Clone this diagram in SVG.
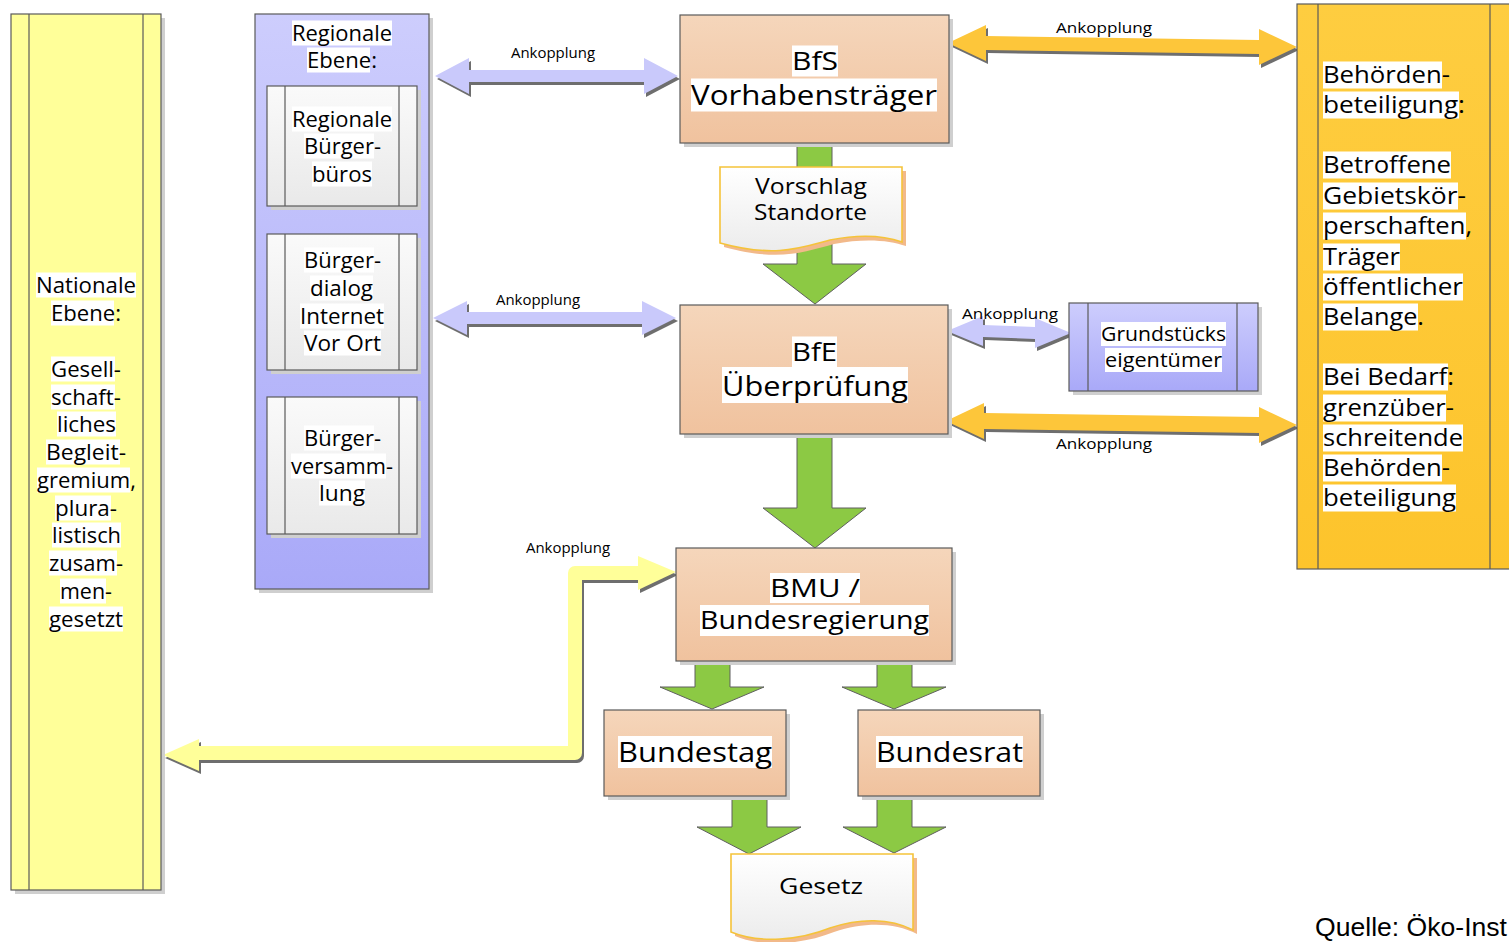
<svg xmlns="http://www.w3.org/2000/svg" width="1509" height="942" viewBox="0 0 1509 942">
<defs>
<linearGradient id="gPeach" x1="0" y1="0" x2="0" y2="1"><stop offset="0" stop-color="#f5d6bb"/><stop offset="1" stop-color="#f0c29e"/></linearGradient>
<linearGradient id="gLav" x1="0" y1="0" x2="0" y2="1"><stop offset="0" stop-color="#cdcdfd"/><stop offset="1" stop-color="#a9a9f8"/></linearGradient>
<linearGradient id="gSub" x1="0" y1="0" x2="0" y2="1"><stop offset="0" stop-color="#fafafa"/><stop offset="1" stop-color="#e9e9e9"/></linearGradient>
<linearGradient id="gDoc" x1="0" y1="0" x2="0" y2="1"><stop offset="0" stop-color="#ffffff"/><stop offset="1" stop-color="#ececec"/></linearGradient>
<linearGradient id="gOr" x1="0" y1="0" x2="0" y2="1"><stop offset="0" stop-color="#fecd40"/><stop offset="1" stop-color="#fdc42c"/></linearGradient>
</defs>
<style>
.t{font-family:"Open Sans","Noto Sans","DejaVu Sans",sans-serif;fill:#000}
.hl{fill:#fff}
.box{stroke:#5a5a5a;stroke-width:1.2}
.ln{stroke:#5a5a5a;stroke-width:1.2}
.sh{fill:#cfcfcf}
.ash{fill:#6e6e6e}
.lbl{font-family:"Open Sans","Noto Sans",sans-serif;font-size:14px;fill:#000}
.green{fill:#8cc944;stroke:#5f5f5f;stroke-width:1}
.lav{fill:#c9c9fb}
.orA{fill:#fdc63a}
.doc{fill:url(#gDoc);stroke:#f5c33a;stroke-width:1.6}
.docsh{fill:#f2b98a}
</style>
<rect width="1509" height="942" fill="#fff"/>

<g id="connectors">
  <polygon class="green" points="797,143 832,143 832,264 866,264 815,304 763,264 797,264"/>
  <polygon class="green" points="797,434 832,434 832,508 866,508 815,548 763,508 797,508"/>
  <polygon class="green" points="695,661 730,661 730,687 764,687 712,709 660,687 695,687"/>
  <polygon class="green" points="877,661 912,661 912,687 946,687 894,709 842,687 877,687"/>
  <polygon class="green" points="732,796 767,796 767,827 801,827 749,854 697,827 732,827"/>
  <polygon class="green" points="877,796 912,796 912,827 946,827 894,853 843,827 877,827"/>

  <g transform="translate(2,3)"><polygon class="ash" points="435,76 469,58 469,70 644,70 644,58 678,76 644,94 644,82 469,82 469,94"/></g>
  <polygon class="lav" points="435,76 469,58 469,70 644,70 644,58 678,76 644,94 644,82 469,82 469,94"/>
  <text class="lbl" x="553" y="58" text-anchor="middle" textLength="84" lengthAdjust="spacingAndGlyphs">Ankopplung</text>

  <g transform="translate(2,3)"><polygon class="ash" points="433,318 467,301 467,312 642,312 642,301 676,318 642,335 642,324 467,324 467,335"/></g>
  <polygon class="lav" points="433,318 467,301 467,312 642,312 642,301 676,318 642,335 642,324 467,324 467,335"/>
  <text class="lbl" x="538" y="305" text-anchor="middle" textLength="84" lengthAdjust="spacingAndGlyphs">Ankopplung</text>

  <g transform="translate(2,3)"><polygon class="ash" points="948,43 986,25 986,36 1259,40 1259,29 1297,47 1259,65 1259,54 986,50 986,61"/></g>
  <polygon class="orA" points="948,43 986,25 986,36 1259,40 1259,29 1297,47 1259,65 1259,54 986,50 986,61"/>
  <text class="lbl" x="1104" y="33" text-anchor="middle" textLength="96" lengthAdjust="spacingAndGlyphs">Ankopplung</text>

  <g transform="translate(2,3)"><polygon class="ash" points="947,331 983,316 983,325 1035,327 1035,318 1071,333 1035,348 1035,339 983,337 983,346"/></g>
  <polygon class="lav" points="947,331 983,316 983,325 1035,327 1035,318 1071,333 1035,348 1035,339 983,337 983,346"/>
  <text class="lbl" x="1010" y="319" text-anchor="middle" textLength="96" lengthAdjust="spacingAndGlyphs">Ankopplung</text>

  <g transform="translate(2,3)"><polygon class="ash" points="946,421 984,403 984,413 1259,417 1259,407 1297,425 1259,443 1259,433 984,429 984,439"/></g>
  <polygon class="orA" points="946,421 984,403 984,413 1259,417 1259,407 1297,425 1259,443 1259,433 984,429 984,439"/>
  <text class="lbl" x="1104" y="449" text-anchor="middle" textLength="96" lengthAdjust="spacingAndGlyphs">Ankopplung</text>

  <path d="M640,576 H577 V756 H198" fill="none" stroke="#6e6e6e" stroke-width="14" stroke-linejoin="round"/>
  <polygon class="ash" points="678,575 640,559 640,593"/>
  <polygon class="ash" points="165,758 201,742 201,774"/>
  <path d="M640,573 H575 V753 H198" fill="none" stroke="#ffff99" stroke-width="14" stroke-linejoin="round"/>
  <polygon fill="#ffff99" points="676,572 638,556 638,590"/>
  <polygon fill="#ffff99" points="163,755 199,739 199,771"/>
  <text class="lbl" x="568" y="553" text-anchor="middle" textLength="84" lengthAdjust="spacingAndGlyphs">Ankopplung</text>
</g>

<g id="national">
  <rect class="sh" x="15" y="18" width="150" height="876"/>
  <rect class="box" x="11" y="14" width="150" height="876" fill="#ffff99"/>
  <line class="ln" x1="29" y1="14" x2="29" y2="890"/>
  <line class="ln" x1="143" y1="14" x2="143" y2="890"/>
  <g font-size="21">
    <rect class="hl" x="36" y="272.5" width="100" height="25"/><text class="t" x="86" y="292.5" text-anchor="middle" textLength="100" lengthAdjust="spacingAndGlyphs">Nationale</text>
    <rect class="hl" x="51" y="300.5" width="63" height="25"/><text class="t" x="86" y="320.5" text-anchor="middle" textLength="70" lengthAdjust="spacingAndGlyphs">Ebene:</text>
    <rect class="hl" x="51" y="356.5" width="64" height="25"/><text class="t" x="86" y="376.5" text-anchor="middle" textLength="70" lengthAdjust="spacingAndGlyphs">Gesell-</text>
    <rect class="hl" x="51" y="384.5" width="64" height="25"/><text class="t" x="86" y="404.5" text-anchor="middle" textLength="70" lengthAdjust="spacingAndGlyphs">schaft-</text>
    <rect class="hl" x="57" y="411.5" width="59" height="25"/><text class="t" x="86.5" y="431.5" text-anchor="middle" textLength="59" lengthAdjust="spacingAndGlyphs">liches</text>
    <rect class="hl" x="46" y="439.5" width="74" height="25"/><text class="t" x="86" y="459.5" text-anchor="middle" textLength="80" lengthAdjust="spacingAndGlyphs">Begleit-</text>
    <rect class="hl" x="37" y="467.5" width="93" height="25"/><text class="t" x="86.5" y="487.5" text-anchor="middle" textLength="99" lengthAdjust="spacingAndGlyphs">gremium,</text>
    <rect class="hl" x="55" y="495.5" width="56" height="25"/><text class="t" x="86" y="515.5" text-anchor="middle" textLength="62" lengthAdjust="spacingAndGlyphs">plura-</text>
    <rect class="hl" x="52" y="522.5" width="69" height="25"/><text class="t" x="86.5" y="542.5" text-anchor="middle" textLength="69" lengthAdjust="spacingAndGlyphs">listisch</text>
    <rect class="hl" x="49" y="550.5" width="68" height="25"/><text class="t" x="86" y="570.5" text-anchor="middle" textLength="74" lengthAdjust="spacingAndGlyphs">zusam-</text>
    <rect class="hl" x="60" y="578.5" width="46" height="25"/><text class="t" x="86" y="598.5" text-anchor="middle" textLength="52" lengthAdjust="spacingAndGlyphs">men-</text>
    <rect class="hl" x="49" y="606.5" width="74" height="25"/><text class="t" x="86" y="626.5" text-anchor="middle" textLength="74" lengthAdjust="spacingAndGlyphs">gesetzt</text>
  </g>
</g>

<g id="regional">
  <rect class="sh" x="259" y="18" width="174" height="575"/>
  <rect class="box" x="255" y="14" width="174" height="575" fill="url(#gLav)"/>
  <g font-size="21">
    <rect class="hl" x="292" y="20.5" width="100" height="25"/><text class="t" x="342" y="40.5" text-anchor="middle" textLength="100" lengthAdjust="spacingAndGlyphs">Regionale</text>
    <rect class="hl" x="307" y="47.5" width="63" height="25"/><text class="t" x="342" y="67.5" text-anchor="middle" textLength="70" lengthAdjust="spacingAndGlyphs">Ebene:</text>
  </g>
</g>

<g id="buergerbueros">
  <rect class="sh" x="271" y="90" width="150" height="120"/>
  <rect class="box" x="267" y="86" width="150" height="120" fill="url(#gSub)"/>
  <line class="ln" x1="285" y1="86" x2="285" y2="206"/><line class="ln" x1="399" y1="86" x2="399" y2="206"/>
  <g font-size="21">
    <rect class="hl" x="292" y="106.5" width="100" height="25"/><text class="t" x="342" y="126.5" text-anchor="middle" textLength="100" lengthAdjust="spacingAndGlyphs">Regionale</text>
    <rect class="hl" x="304" y="133.5" width="70" height="25"/><text class="t" x="342.5" y="153.5" text-anchor="middle" textLength="77" lengthAdjust="spacingAndGlyphs">Bürger-</text>
    <rect class="hl" x="312" y="161.5" width="60" height="25"/><text class="t" x="342" y="181.5" text-anchor="middle" textLength="60" lengthAdjust="spacingAndGlyphs">büros</text>
  </g>
</g>

<g id="buergerdialog">
  <rect class="sh" x="271" y="238" width="150" height="136"/>
  <rect class="box" x="267" y="234" width="150" height="136" fill="url(#gSub)"/>
  <line class="ln" x1="285" y1="234" x2="285" y2="370"/><line class="ln" x1="399" y1="234" x2="399" y2="370"/>
  <g font-size="21">
    <rect class="hl" x="304" y="247.5" width="70" height="25"/><text class="t" x="342.5" y="267.5" text-anchor="middle" textLength="77" lengthAdjust="spacingAndGlyphs">Bürger-</text>
    <rect class="hl" x="310" y="275.5" width="63" height="25"/><text class="t" x="341.5" y="295.5" text-anchor="middle" textLength="63" lengthAdjust="spacingAndGlyphs">dialog</text>
    <rect class="hl" x="300" y="303.5" width="84" height="25"/><text class="t" x="342" y="323.5" text-anchor="middle" textLength="84" lengthAdjust="spacingAndGlyphs">Internet</text>
    <rect class="hl" x="304" y="330.5" width="77" height="25"/><text class="t" x="342.5" y="350.5" text-anchor="middle" textLength="77" lengthAdjust="spacingAndGlyphs">Vor Ort</text>
  </g>
</g>

<g id="buergerversammlung">
  <rect class="sh" x="271" y="401" width="150" height="137"/>
  <rect class="box" x="267" y="397" width="150" height="137" fill="url(#gSub)"/>
  <line class="ln" x1="285" y1="397" x2="285" y2="534"/><line class="ln" x1="399" y1="397" x2="399" y2="534"/>
  <g font-size="21">
    <rect class="hl" x="304" y="425.5" width="70" height="25"/><text class="t" x="342.5" y="445.5" text-anchor="middle" textLength="77" lengthAdjust="spacingAndGlyphs">Bürger-</text>
    <rect class="hl" x="291" y="453.5" width="95" height="25"/><text class="t" x="342" y="473.5" text-anchor="middle" textLength="102" lengthAdjust="spacingAndGlyphs">versamm-</text>
    <rect class="hl" x="319" y="480.5" width="46" height="25"/><text class="t" x="342" y="500.5" text-anchor="middle" textLength="46" lengthAdjust="spacingAndGlyphs">lung</text>
  </g>
</g>

<g id="bfs">
  <rect class="sh" x="684" y="19" width="269" height="128"/>
  <rect class="box" x="680" y="15" width="269" height="128" fill="url(#gPeach)"/>
  <rect class="hl" x="792" y="45.5" width="46" height="31"/><text class="t" x="815" y="70.4" font-size="26" text-anchor="middle" textLength="46" lengthAdjust="spacingAndGlyphs">BfS</text>
  <rect class="hl" x="691" y="78.5" width="246" height="33"/><text class="t" x="814" y="105" font-size="28" text-anchor="middle" textLength="246" lengthAdjust="spacingAndGlyphs">Vorhabensträger</text>
</g>

<g id="vorschlag">
  <path class="docsh" d="M724,171 H906 V246 C889,240 864,238 834,244 C804,252 779,262 724,247 Z"/>
  <path class="doc" d="M720,167 H902 V242 C885,236 860,234 830,240 C800,248 775,258 720,243 Z"/>
  <text class="t" x="811" y="193.5" font-size="21" text-anchor="middle" textLength="112" lengthAdjust="spacingAndGlyphs">Vorschlag</text>
  <text class="t" x="810.5" y="219.5" font-size="21" text-anchor="middle" textLength="113" lengthAdjust="spacingAndGlyphs">Standorte</text>
</g>

<g id="bfe">
  <rect class="sh" x="684" y="309" width="268" height="129"/>
  <rect class="box" x="680" y="305" width="268" height="129" fill="url(#gPeach)"/>
  <rect class="hl" x="792" y="336.5" width="45" height="31"/><text class="t" x="814.5" y="361.4" font-size="26" text-anchor="middle" textLength="45" lengthAdjust="spacingAndGlyphs">BfE</text>
  <rect class="hl" x="722" y="367" width="186" height="36"/><text class="t" x="815" y="396" font-size="28" text-anchor="middle" textLength="186" lengthAdjust="spacingAndGlyphs">Überprüfung</text>
</g>

<g id="grundstueck">
  <rect class="sh" x="1073" y="307" width="189" height="88"/>
  <rect class="box" x="1069" y="303" width="189" height="88" fill="url(#gLav)"/>
  <line class="ln" x1="1088" y1="303" x2="1088" y2="391"/><line class="ln" x1="1237" y1="303" x2="1237" y2="391"/>
  <rect class="hl" x="1101" y="322" width="125" height="24"/><text class="t" x="1163.5" y="341" font-size="20" text-anchor="middle" textLength="125" lengthAdjust="spacingAndGlyphs">Grundstücks</text>
  <rect class="hl" x="1105" y="348" width="117" height="24"/><text class="t" x="1163.5" y="367" font-size="20" text-anchor="middle" textLength="117" lengthAdjust="spacingAndGlyphs">eigentümer</text>
</g>

<g id="behoerden">
  <rect class="box" x="1297" y="4" width="216" height="565" fill="url(#gOr)"/>
  <line class="ln" x1="1318" y1="4" x2="1318" y2="569"/><line class="ln" x1="1490" y1="4" x2="1490" y2="569"/>
  <g font-size="23">
    <rect class="hl" x="1323" y="61.5" width="119" height="27"/><text class="t" x="1323" y="83.3" textLength="127" lengthAdjust="spacingAndGlyphs">Behörden-</text>
    <rect class="hl" x="1323" y="91.5" width="136" height="27"/><text class="t" x="1323" y="113.3" textLength="142" lengthAdjust="spacingAndGlyphs">beteiligung:</text>
    <rect class="hl" x="1323" y="151.5" width="128" height="27"/><text class="t" x="1323" y="173.3" textLength="128" lengthAdjust="spacingAndGlyphs">Betroffene</text>
    <rect class="hl" x="1323" y="182.5" width="135" height="27"/><text class="t" x="1323" y="204.3" textLength="143" lengthAdjust="spacingAndGlyphs">Gebietskör-</text>
    <rect class="hl" x="1323" y="212.5" width="143" height="27"/><text class="t" x="1323" y="234.3" textLength="149" lengthAdjust="spacingAndGlyphs">perschaften,</text>
    <rect class="hl" x="1323" y="243.5" width="77" height="27"/><text class="t" x="1323" y="265.3" textLength="77" lengthAdjust="spacingAndGlyphs">Träger</text>
    <rect class="hl" x="1323" y="273.5" width="140" height="27"/><text class="t" x="1323" y="295.3" textLength="140" lengthAdjust="spacingAndGlyphs">öffentlicher</text>
    <rect class="hl" x="1323" y="303.5" width="95" height="27"/><text class="t" x="1323" y="325.3" textLength="101" lengthAdjust="spacingAndGlyphs">Belange.</text>
    <rect class="hl" x="1323" y="363.5" width="125" height="27"/><text class="t" x="1323" y="385.3" textLength="131" lengthAdjust="spacingAndGlyphs">Bei Bedarf:</text>
    <rect class="hl" x="1323" y="394.5" width="123" height="27"/><text class="t" x="1323" y="416.3" textLength="131" lengthAdjust="spacingAndGlyphs">grenzüber-</text>
    <rect class="hl" x="1323" y="424.5" width="140" height="27"/><text class="t" x="1323" y="446.3" textLength="140" lengthAdjust="spacingAndGlyphs">schreitende</text>
    <rect class="hl" x="1323" y="454.5" width="119" height="27"/><text class="t" x="1323" y="476.3" textLength="127" lengthAdjust="spacingAndGlyphs">Behörden-</text>
    <rect class="hl" x="1323" y="484.5" width="133" height="27"/><text class="t" x="1323" y="506.3" textLength="133" lengthAdjust="spacingAndGlyphs">beteiligung</text>
  </g>
</g>

<g id="bmu">
  <rect class="sh" x="680" y="552" width="276" height="113"/>
  <rect class="box" x="676" y="548" width="276" height="113" fill="url(#gPeach)"/>
  <rect class="hl" x="770" y="573" width="90" height="30"/><text class="t" x="815" y="597" font-size="25" text-anchor="middle" textLength="90" lengthAdjust="spacingAndGlyphs">BMU /</text>
  <rect class="hl" x="700" y="605" width="229" height="31"/><text class="t" x="814.5" y="629" font-size="25" text-anchor="middle" textLength="229" lengthAdjust="spacingAndGlyphs">Bundesregierung</text>
</g>

<g id="bundestag">
  <rect class="sh" x="608" y="714" width="182" height="86"/>
  <rect class="box" x="604" y="710" width="182" height="86" fill="url(#gPeach)"/>
  <rect class="hl" x="618" y="736" width="154" height="32"/><text class="t" x="695" y="761.7" font-size="27" text-anchor="middle" textLength="154" lengthAdjust="spacingAndGlyphs">Bundestag</text>
</g>

<g id="bundesrat">
  <rect class="sh" x="862" y="714" width="182" height="86"/>
  <rect class="box" x="858" y="710" width="182" height="86" fill="url(#gPeach)"/>
  <rect class="hl" x="876" y="736" width="147" height="32"/><text class="t" x="949.5" y="761.7" font-size="27" text-anchor="middle" textLength="147" lengthAdjust="spacingAndGlyphs">Bundesrat</text>
</g>

<g id="gesetz">
  <path class="docsh" d="M735,858 H917 V934 C894,922 864,922 834,932 C804,944 764,948 735,936 Z"/>
  <path class="doc" d="M731,854 H913 V930 C890,918 860,918 830,928 C800,940 760,944 731,932 Z"/>
  <text class="t" x="821" y="894" font-size="22" text-anchor="middle" textLength="84" lengthAdjust="spacingAndGlyphs">Gesetz</text>
</g>

<text x="1315" y="936" font-family="Liberation Sans, Arial, sans-serif" font-size="25" textLength="192" lengthAdjust="spacingAndGlyphs" fill="#000">Quelle: Öko-Inst</text>
</svg>
